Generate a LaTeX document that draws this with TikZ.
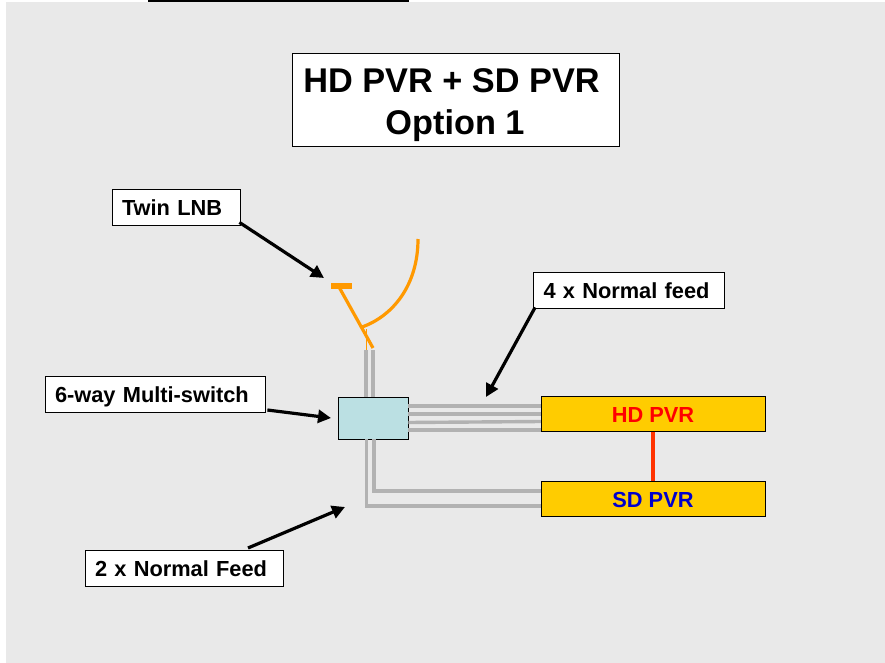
\documentclass[tikz,border=0pt]{standalone}
\usepackage{fontspec}
\setmainfont{Liberation Sans}
\usetikzlibrary{arrows.meta,calc}
\definecolor{bggray}{HTML}{E9E9E9}
\definecolor{wire}{HTML}{B2B2B2}
\definecolor{dish}{HTML}{FF9900}
\definecolor{boxgold}{HTML}{FFCC00}
\definecolor{switchblue}{HTML}{BBE0E3}
\definecolor{link}{HTML}{FF3300}
\tikzset{
  x=1pt,y=-1pt,
  lbl/.style={draw=black,fill=white,line width=0.8pt,font=\bfseries\fontsize{21.8pt}{26pt}\selectfont,inner xsep=10pt,inner ysep=0pt,align=left,text height=26pt,text depth=10pt},
  titlebox/.style={draw=black,fill=white,line width=0.8pt,minimum width=327pt,minimum height=93pt,inner sep=0pt},
  titletext/.style={font=\bfseries\fontsize{34.3pt}{40pt}\selectfont,inner sep=0pt,anchor=base},
  wireline/.style={draw=wire,line width=3.4pt},
  pointer/.style={draw=black,line width=3.2pt,-{Triangle[length=13pt,width=13pt]}},
  dishline/.style={draw=dish,line width=3.2pt},
  pvr/.style={draw=black,fill=boxgold,line width=0.8pt,minimum width=224pt,inner sep=0pt,text height=26pt,text depth=9pt,font=\bfseries\fontsize{21.8pt}{26pt}\selectfont}
}
\begin{document}
\begin{tikzpicture}
\useasboundingbox (0,0) rectangle (885,663);
\fill[white] (0,0) rectangle (885,663);
\fill[bggray] (6,2) rectangle (885,663);
\fill[black] (148,0) rectangle (409,2);
% title
\node[titlebox] (title) at (455.5,100) {};
\node[titletext] (t1) at (451.5,93) {HD PVR + SD PVR};
\node[titletext] (t2) at (455,135) {Option 1};
% free ends
\coordinate (lnbtip) at (324,278);
\coordinate (feedtip) at (486,397);
\coordinate (switchtip) at (331,418);
\coordinate (feedtwotip) at (345,507);
% labels
\node[lbl,text width=108pt] (lnb) at (176,207) {Twin LNB};
\node[lbl,text width=171pt] (four) at (629,290) {4 x Normal feed};
\node[lbl,text width=200pt,text height=26.7pt,text depth=9.3pt] (six) at (155,394) {6-way Multi-switch};
\node[lbl,text width=178pt] (two) at (184,568) {2 x Normal Feed};
% wires
\coordinate (vtA) at (366,350);\coordinate (vtB) at (373,350);
\coordinate (bA) at (366.5,506);\coordinate (bB) at (374,491);
\draw[wireline] (vtA) -- (366,397);
\draw[wireline] (vtB) -- (373,397);
\node[draw=black,fill=switchblue,line width=0.8pt,minimum width=70pt,minimum height=42pt,inner sep=0pt] (sw) at (373,418) {};
\draw[wireline] (sw.east |- 0,406) -- (541,406) coordinate (w1);
\draw[wireline] (sw.east |- 0,414) -- (541,414) coordinate (w2);
\draw[wireline] (sw.east |- 0,422.5) -- (541,421.5) coordinate (w3);
\draw[wireline] (sw.east |- 0,430) -- (541,430) coordinate (w4);
\node[pvr] (hd) at (653,414) {\textcolor{red}{HD PVR}};
\node[pvr] (sd) at (653,498.5) {\textcolor[HTML]{0000CC}{SD PVR}};
\draw[wireline] (bA |- sw.south) -- (bA) -- (sd.west |- bA);
\draw[wireline] (bB |- sw.south) -- (bB) -- (sd.west |- bB);
\draw[draw=link,line width=3.4pt] (hd.south) -- (sd.north);
% dish
\coordinate (armtop) at (339,287);
\coordinate (armend) at (373,348);
\draw[dishline] (armtop) -- (armend);
\draw[draw=dish,line width=6pt] (331,285.5) -- (352,285.5);
\draw[dishline] (362,327) .. controls (393,316) and (418,285) .. (418,239);
\draw[draw=dish,line width=0.7pt] (366,329) -- (366,350);
% pointers
\draw[pointer] ($(lnb.south east)+(-1,-3)$) -- (lnbtip);
\draw[pointer] (four.south west) ++(2,-1) -- (feedtip);
\draw[pointer] (six.east) ++(2,16) -- (switchtip);
\draw[pointer] (248,548) -- (feedtwotip);
\end{tikzpicture}
\end{document}
